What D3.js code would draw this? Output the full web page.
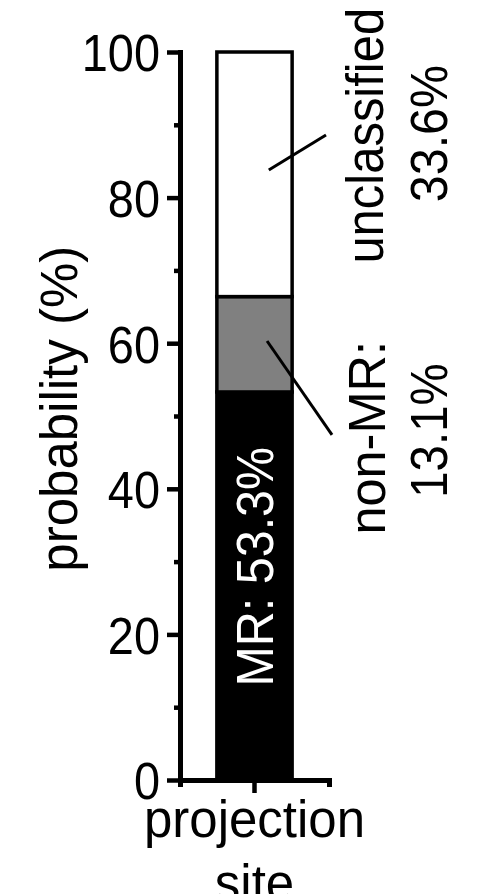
<!DOCTYPE html>
<html>
<head>
<meta charset="utf-8">
<script src="https://cdn.jsdelivr.net/npm/d3@7"></script>
<style>
  body { margin: 0; background: #fff; }
  text { font-family: "Liberation Sans", Arial, sans-serif; }
</style>
</head>
<body>
<div id="chart"></div>
<script>
// Data
const categories = ['projection site'];
const segmentNames = ['MR', 'non-MR', 'unclassified'];
const segmentValues = [53.3, 13.1, 33.6];
const yTicks = [0, 20, 40, 60, 80, 100];
const yMinorTicks = [10, 30, 50, 70, 90];

// Styles
const segmentFill = { 'MR': '#000000', 'non-MR': '#808080', 'unclassified': '#ffffff' };
const fontSize = 51;

const width = 491;
const height = 894;

const svg = d3.select('#chart')
  .append('svg')
  .attr('width', width)
  .attr('height', height);

svg.append('rect')
  .attr('width', width)
  .attr('height', height)
  .attr('fill', '#fff');

// Scales
const x = d3.scaleBand()
  .domain(categories)
  .range([180, 329])
  .paddingInner(0)
  .paddingOuter(0.49);

const y = d3.scaleLinear()
  .domain([0, 100])
  .range([780, 52]);

// Stacked segments
const ends = d3.cumsum(segmentValues);
const stacked = segmentNames.map((name, i) => ({
  name,
  y0: ends[i] - segmentValues[i],
  y1: ends[i]
}));

const barX = x(categories[0]);
const bw = x.bandwidth();

svg.append('g')
  .selectAll('rect')
  .data(stacked)
  .enter()
  .append('rect')
  .attr('x', barX)
  .attr('width', bw)
  .attr('y', d => y(d.y1))
  .attr('height', d => y(d.y0) - y(d.y1))
  .attr('fill', d => segmentFill[d.name])
  .attr('stroke', '#000')
  .attr('stroke-width', 3.5);

// Y axis
const yAxis = svg.append('g')
  .attr('transform', 'translate(180,0)')
  .call(d3.axisLeft(y).tickValues(yTicks).tickSize(13).tickSizeOuter(0));

yAxis.select('.domain')
  .attr('stroke-width', 5)
  .attr('stroke-linecap', 'square');
yAxis.selectAll('.tick line').attr('stroke-width', 4.5);
yAxis.selectAll('.tick text')
  .attr('x', 0)
  .attr('dy', '0.37em')
  .attr('transform', 'translate(-20,0) scale(0.92,1)')
  .attr('fill', '#000')
  .style('font-size', fontSize + 'px');

const yMinor = svg.append('g')
  .attr('transform', 'translate(180,0)')
  .call(d3.axisLeft(y).tickValues(yMinorTicks).tickSize(6).tickFormat(''));
yMinor.select('.domain').remove();
yMinor.selectAll('.tick line').attr('stroke-width', 4.5);

// X axis
const xAxis = svg.append('g')
  .attr('transform', `translate(0,${y(0)})`)
  .call(d3.axisBottom(x).tickSize(13).tickSizeOuter(7).tickPadding(8));

xAxis.select('.domain').attr('stroke-width', 5);
xAxis.selectAll('.tick line').attr('stroke-width', 4.5);
xAxis.selectAll('.tick text')
  .attr('fill', '#000')
  .style('font-size', fontSize + 'px')
  .each(function(d) {
    const t = d3.select(this);
    const words = d.split(' ');
    t.text(null);
    words.forEach((w, i) => {
      t.append('tspan')
        .attr('x', 0)
        .attr('dy', i === 0 ? '0.71em' : '1.25em')
        .text(w);
    });
  });

// Y axis title
svg.append('text')
  .attr('transform', `translate(77,${y(51)}) rotate(-90)`)
  .attr('text-anchor', 'middle')
  .style('font-size', fontSize + 'px')
  .text('probability (%)');

// Label inside the black segment
svg.append('text')
  .attr('transform', `translate(273,${y(29.3)}) rotate(-90) scale(0.95,1)`)
  .attr('text-anchor', 'middle')
  .attr('fill', '#fff')
  .style('font-size', fontSize + 'px')
  .text(`${segmentNames[0]}: ${segmentValues[0]}%`);

// Outside labels with leader lines
const sideLabels = [
  { text: segmentNames[2], bx: 383, cy: 88.5, sx: 0.96 },
  { text: segmentValues[2] + '%', bx: 447, cy: 88.8, sx: 0.95 },
  { text: segmentNames[1] + ':', bx: 385, cy: 47, sx: 0.99 },
  { text: segmentValues[1] + '%', bx: 447, cy: 48, sx: 0.93 }
];

svg.append('g')
  .selectAll('text')
  .data(sideLabels)
  .enter()
  .append('text')
  .attr('transform', d => `translate(${d.bx},${y(d.cy)}) rotate(-90) scale(${d.sx},1)`)
  .attr('text-anchor', 'middle')
  .style('font-size', fontSize + 'px')
  .text(d => d.text);

const leaders = [
  { x1: barX + bw * 0.69, y1: y(83.8), x2: barX + bw * 1.45, y2: y(88.6) },
  { x1: barX + bw * 0.667, y1: y(60.3), x2: barX + bw * 1.53, y2: y(47.4) }
];

svg.append('g')
  .selectAll('line')
  .data(leaders)
  .enter()
  .append('line')
  .attr('x1', d => d.x1)
  .attr('y1', d => d.y1)
  .attr('x2', d => d.x2)
  .attr('y2', d => d.y2)
  .attr('stroke', '#000')
  .attr('stroke-width', 3);
</script>
</body>
</html>
